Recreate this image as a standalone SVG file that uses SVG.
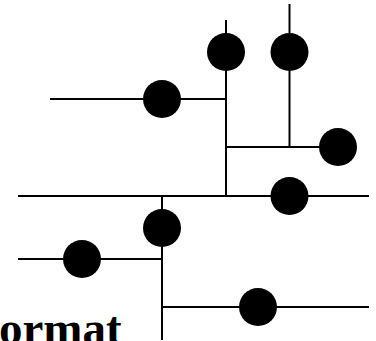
<svg xmlns="http://www.w3.org/2000/svg" width="376" height="341" viewBox="0 0 376 341">
<style>
.w{stroke:#000;stroke-width:2;fill:none}
.n{fill:#000}
.t{font-family:"Liberation Serif",serif;font-weight:bold;font-size:47px;fill:#000}
</style>
<rect width="376" height="341" fill="#fff"/>
<g id="connectors">
<line class="w" x1="226" y1="20" x2="226" y2="196"/>
<line class="w" x1="289.5" y1="4" x2="289.5" y2="147"/>
<line class="w" x1="50" y1="99" x2="226" y2="99"/>
<line class="w" x1="226" y1="147" x2="338" y2="147"/>
<line class="w" x1="18" y1="196" x2="369" y2="196"/>
<line class="w" x1="162" y1="196" x2="162" y2="340"/>
<line class="w" x1="18" y1="259" x2="162" y2="259"/>
<line class="w" x1="162" y1="307" x2="369" y2="307"/>
</g>
<g id="n1"><circle class="n" cx="226" cy="52" r="19"/></g>
<g id="n2"><circle class="n" cx="289.5" cy="52" r="19"/></g>
<g id="n3"><circle class="n" cx="162" cy="99" r="19"/></g>
<g id="n4"><circle class="n" cx="338" cy="147" r="19"/></g>
<g id="n5"><circle class="n" cx="289.5" cy="196" r="19"/></g>
<g id="n6"><circle class="n" cx="162" cy="228" r="19"/></g>
<g id="n7"><circle class="n" cx="82" cy="259" r="19"/></g>
<g id="n8"><circle class="n" cx="258" cy="307" r="19"/></g>
<g id="label"><text class="t" x="-1" y="344">ormat</text></g>
</svg>
